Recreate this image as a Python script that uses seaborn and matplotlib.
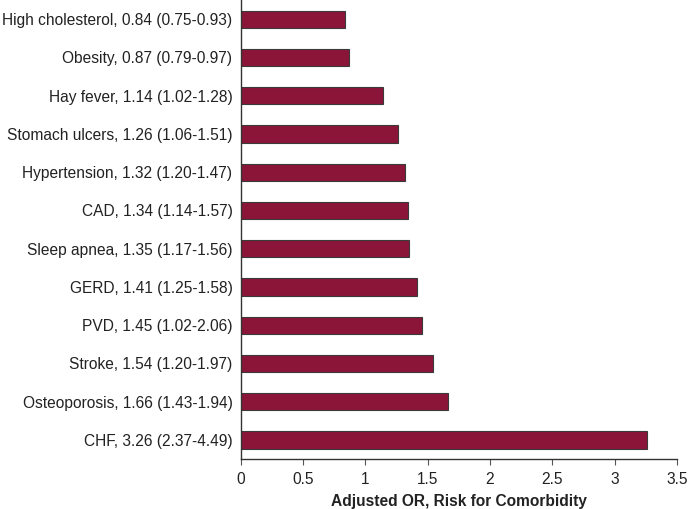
import pandas as pd
import numpy as np
import matplotlib
matplotlib.use("Agg")
import matplotlib.pyplot as plt
import seaborn as sns

# data
conditions = ["High cholesterol", "Obesity", "Hay fever", "Stomach ulcers", "Hypertension",
              "CAD", "Sleep apnea", "GERD", "PVD", "Stroke", "Osteoporosis", "CHF"]
odds_ratio = [0.84, 0.87, 1.14, 1.26, 1.32, 1.34, 1.35, 1.41, 1.45, 1.54, 1.66, 3.26]
ci_text = ["0.75-0.93", "0.79-0.97", "1.02-1.28", "1.06-1.51", "1.20-1.47", "1.14-1.57",
           "1.17-1.56", "1.25-1.58", "1.02-2.06", "1.20-1.97", "1.43-1.94", "2.37-4.49"]

labels = [f"{c}, {o:.2f} ({ci})" for c, o, ci in zip(conditions, odds_ratio, ci_text)]
df = pd.DataFrame({"label": labels, "OR": odds_ratio})

sns.set_style("white")
plt.rcParams["font.family"] = ["Liberation Sans", "DejaVu Sans"]

fig = plt.figure(figsize=(6.88, 5.09), dpi=100)
ax = fig.add_axes([0.350, 0.098, 0.634, 0.902])

sns.barplot(data=df, x="OR", y="label", orient="h", color="#8B1538", saturation=1,
            width=0.45, edgecolor="#3a3a3a", linewidth=0.8, ax=ax)

ax.set_xlim(0, 3.5)
ax.set_ylim(11.5, -0.5)
ax.set_xticks(np.arange(0, 3.51, 0.5))
ax.set_xticklabels(["0", "0.5", "1", "1.5", "2", "2.5", "3", "3.5"])
ax.set_xlabel("Adjusted OR, Risk for Comorbidity", fontsize=11.2, fontweight="bold",
              color="#222222", labelpad=5)
ax.set_ylabel("")

for s in ["top", "right"]:
    ax.spines[s].set_visible(False)
for s in ["left", "bottom"]:
    ax.spines[s].set_color("#333333")
    ax.spines[s].set_linewidth(1)

ax.tick_params(axis="x", direction="out", length=4, width=0.8, color="#555555",
               labelsize=11.2, labelcolor="#222222", bottom=True, pad=5)
ax.tick_params(axis="y", length=0, labelsize=11.2, labelcolor="#222222", pad=6)

plt.savefig("out.png", dpi=100)
